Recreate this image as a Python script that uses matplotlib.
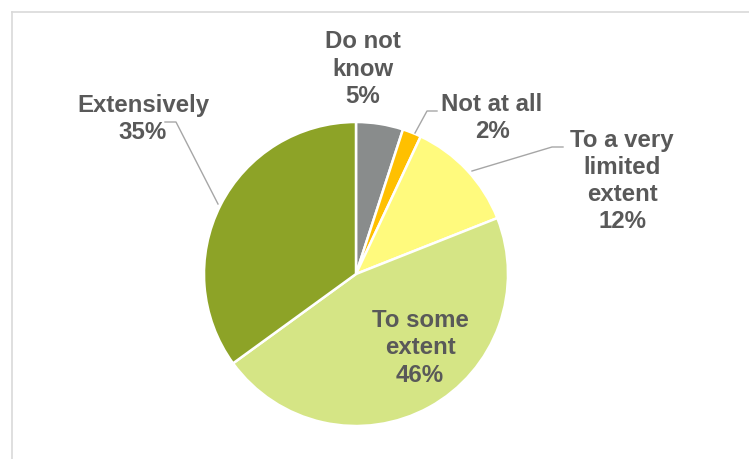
import matplotlib
matplotlib.use("Agg")
import matplotlib.pyplot as plt
from matplotlib.lines import Line2D

categories = ["Do not\nknow", "Not at all", "To a very\nlimited\nextent", "To some\nextent", "Extensively"]
values = [5, 2, 12, 46, 35]
colors = ["#898C8C", "#FFC000", "#FFFA7D", "#D5E585", "#8DA327"]

W, H = 749, 460
CX, CY, R = 356, 275, 152

fig = plt.figure(figsize=(W / 100, H / 100), dpi=100)
fig.patch.set_facecolor("white")

# chart area frame (light gray, extends past right/bottom)
fig.add_artist(Line2D([11.5 / W, 11.5 / W], [0, 1 - 12.5 / H], color="#D9D9D9", lw=1.2))
fig.add_artist(Line2D([11.5 / W, 1], [1 - 12.5 / H, 1 - 12.5 / H], color="#D9D9D9", lw=1.2))

ax = fig.add_axes([(CX - R) / W, (H - CY - R) / H, 2 * R / W, 2 * R / H])

ax.pie(values, colors=colors, startangle=90, counterclock=False, radius=1,
       wedgeprops=dict(edgecolor="white", linewidth=1.8))
ax.set_xlim(-1, 1)
ax.set_ylim(-1, 1)
ax.set_aspect("equal")
ax.axis("off")


def d(px, py):
    return ((px - CX) / R, (CY - py) / R)


label_px = [(363, 69), (492, 118), (622, 181), (420, 348), (143, 119)]
total = sum(values)
for cat, v, (px, py) in zip(categories, values, label_px):
    x, y = d(px, py)
    ax.text(x, y, f"{cat}\n{round(100 * v / total)}%", ha="center", va="center",
            multialignment="center", fontsize=17.3, fontweight="bold",
            family="Liberation Sans", color="#595959", linespacing=1.24,
            clip_on=False)

leaders = [
    [(415, 134), (427, 112), (437, 112)],
    [(472, 172), (552, 148), (563, 148)],
    [(218, 205), (176, 123), (165, 123)],
]
for pts in leaders:
    xs, ys = zip(*[d(*p) for p in pts])
    ax.plot(xs, ys, color="#A6A6A6", lw=1.0, clip_on=False)

fig.savefig("out.png", dpi=100, facecolor="white")
